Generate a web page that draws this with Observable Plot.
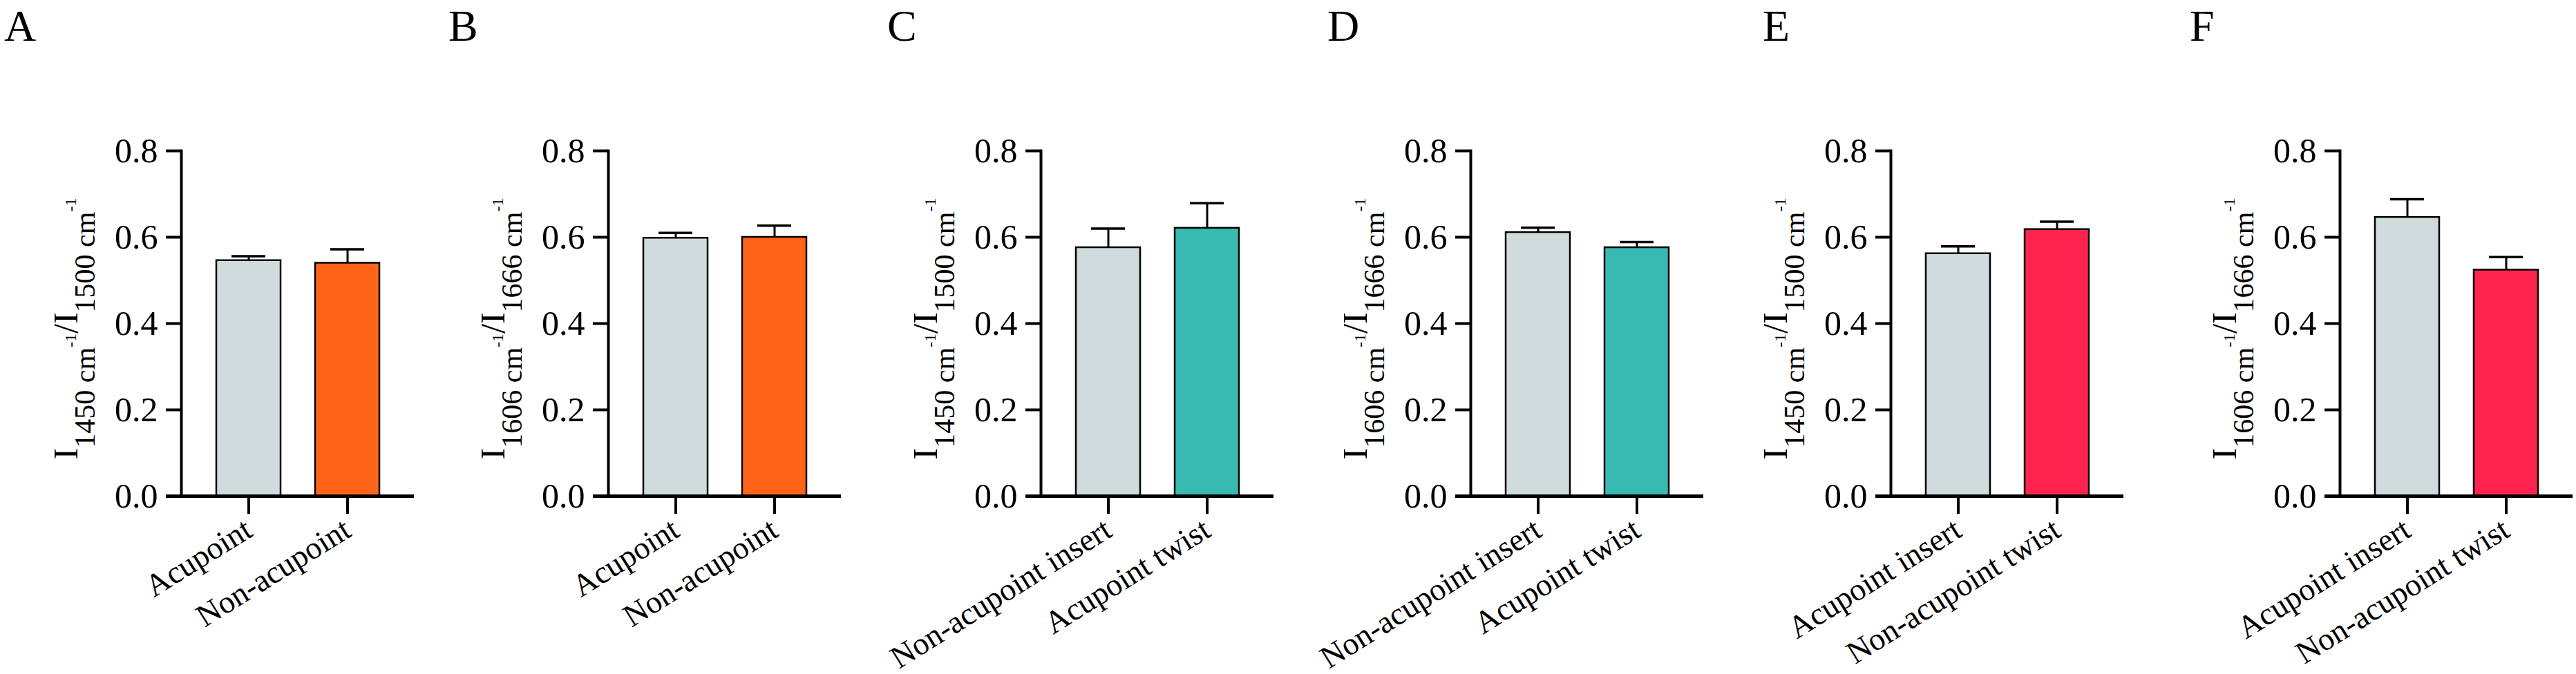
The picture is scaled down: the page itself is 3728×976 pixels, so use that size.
<!DOCTYPE html>
<html>
<head>
<meta charset="utf-8">
<script src="https://cdn.jsdelivr.net/npm/d3@7"></script>
<script src="https://cdn.jsdelivr.net/npm/@observablehq/plot@0.6"></script>
<style>
  html, body { margin: 0; padding: 0; background: #fff; }
  body { width: 3728px; height: 976px; position: relative; overflow: hidden; }
  .panel { position: absolute; top: 0; }
  .panel svg, .panel svg text, .panel svg g, #overlay text {
    font-family: "Liberation Serif", "Times New Roman", serif !important;
  }
  #overlay { position: absolute; left: 0; top: 0; pointer-events: none; }
</style>
</head>
<body>
<div id="root"></div>
<script>
// ---------- data ----------
const panelLetters = ["A", "B", "C", "D", "E", "F"];
const catsAB = ["Acupoint", "Non-acupoint"];
const catsCD = ["Non-acupoint insert", "Acupoint twist"];
const catsEF = ["Acupoint insert", "Non-acupoint twist"];
const categories = [catsAB, catsAB, catsCD, catsCD, catsEF, catsEF];
const means  = [[0.546, 0.540], [0.598, 0.600], [0.576, 0.621], [0.611, 0.576], [0.562, 0.618], [0.646, 0.524]];
const errors = [[0.010, 0.032], [0.012, 0.027], [0.044, 0.058], [0.011, 0.013], [0.017, 0.018], [0.042, 0.030]];
const numerators   = ["1450", "1606", "1450", "1606", "1450", "1606"];
const denominators = ["1500", "1666", "1500", "1666", "1500", "1666"];
const yTicks = [0, 0.2, 0.4, 0.6, 0.8];

// ---------- styles / layout ----------
const gray = "#D0DBDB";
const orange = "#FF6418";
const teal = "#38BAB3";
const red = "#FF2450";
const secondColors = [orange, orange, teal, teal, red, red];
const axisPos = [262, 880, 1506, 2128, 2736, 3386];
const letterPos = [6, 649, 1284, 1921, 2551, 3169];
const FONT = "Liberation Serif";
const ML = 262, MR = 12, PW = 337, MT = 218, MB = 258, H = 976;

const root = document.getElementById("root");

panelLetters.forEach((letter, p) => {
  const data = categories[p].map((c, i) => ({
    cat: c, mean: means[p][i], err: errors[p][i], fill: i === 0 ? gray : secondColors[p]
  }));
  const chart = Plot.plot({
    width: ML + PW + MR,
    height: H,
    marginTop: MT,
    marginBottom: MB,
    marginLeft: ML,
    marginRight: MR,
    style: { fontFamily: FONT, background: "transparent", overflow: "visible", maxWidth: "none", color: "black" },
    x: { type: "band", domain: categories[p], paddingInner: 0.35, paddingOuter: 0.35, label: null },
    y: { domain: [0, 0.8], label: null },
    color: { type: "identity" },
    marks: [
      Plot.barY(data, { x: "cat", y: "mean", fill: "fill", stroke: "black", strokeWidth: 2.5 }),
      Plot.ruleX(data, { x: "cat", y1: "mean", y2: d => d.mean + d.err, stroke: "black", strokeWidth: 3 }),
      Plot.tickY(data, { x: "cat", y: d => d.mean + d.err, stroke: "black", strokeWidth: 3.5, insetLeft: 22, insetRight: 22 }),
      Plot.axisY({ ticks: yTicks, tickFormat: d3.format(".1f"), tickSize: 22, tickPadding: 12, strokeWidth: 4, fontSize: 50, fontFamily: FONT, label: null }),
      Plot.axisX({ tickSize: 26, tickPadding: 18, tickRotate: -32, strokeWidth: 4, fontSize: 46, fontFamily: FONT, label: null }),
      Plot.frame({ anchor: "left", stroke: "black", strokeWidth: 4 }),
      Plot.ruleY([0], { stroke: "black", strokeWidth: 5, insetLeft: -22 })
    ]
  });
  const div = document.createElement("div");
  div.className = "panel";
  div.style.left = (axisPos[p] - ML) + "px";
  div.style.width = (ML + PW + MR) + "px";
  div.appendChild(chart);
  root.appendChild(div);

  // y-axis label with subscripts / superscripts
  const svg = d3.select(chart);
  const t = svg.append("text")
    .attr("transform", `translate(${ML - 150},${476}) rotate(-90)`)
    .attr("text-anchor", "middle")
    .attr("font-family", FONT)
    .attr("font-size", 50)
    .attr("fill", "black");
  t.append("tspan").text("I");
  t.append("tspan").attr("font-size", 42).attr("dy", 25).text(numerators[p] + " cm");
  t.append("tspan").attr("font-size", 24).attr("dy", -27).text("-1");
  t.append("tspan").attr("dy", 2).text("/I");
  t.append("tspan").attr("font-size", 42).attr("dy", 25).text(denominators[p] + " cm");
  t.append("tspan").attr("font-size", 24).attr("dy", -27).text("-1");
});

// panel letters
const overlay = d3.select("body").append("svg")
  .attr("id", "overlay").attr("width", 3728).attr("height", 976);
overlay.selectAll("text").data(panelLetters).join("text")
  .attr("x", (d, i) => letterPos[i])
  .attr("y", 59)
  .attr("font-family", FONT)
  .attr("font-size", 64)
  .attr("fill", "black")
  .text(d => d);
</script>
</body>
</html>
